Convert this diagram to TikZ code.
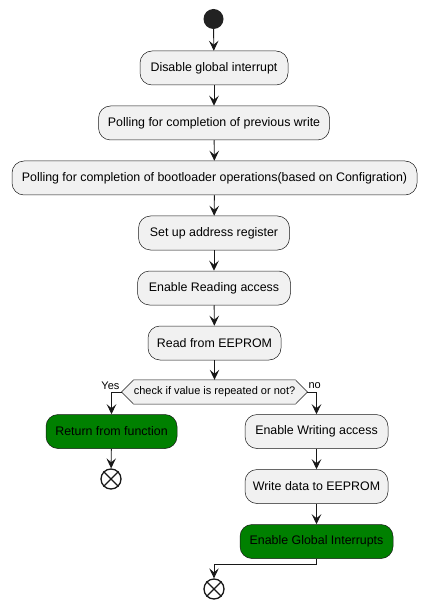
\documentclass[tikz,border=0pt]{standalone}
\usepackage{fontspec}
\setmainfont{Liberation Sans}
\usetikzlibrary{arrows.meta,calc}
\pgfdeclarelayer{bg}
\pgfsetlayers{bg,main}
\definecolor{boxfill}{HTML}{F1F1F1}
\definecolor{edgecol}{HTML}{181818}
\definecolor{okgreen}{HTML}{008000}
\definecolor{startcol}{HTML}{222222}
\begin{document}
\begin{tikzpicture}[x=1pt,y=-1pt,
  act/.style={draw=edgecol, line width=0.5pt, fill=boxfill, rounded corners=12pt,
    minimum height=34pt, inner xsep=4pt, font=\fontsize{12.4}{14}\selectfont},
  okact/.style={act, fill=okgreen},
  arr/.style={draw=edgecol, line width=0.9pt, -{Stealth[length=10pt,width=9.5pt,inset=4pt]}},
  endnode/.style={circle, draw=edgecol, line width=1.3pt, fill=white, minimum size=20pt, inner sep=0pt},
  lbl/.style={font=\fontsize{11}{13}\selectfont, inner sep=0pt}
]
\useasboundingbox (0,0) rectangle (427,609);
\node[circle, fill=startcol, minimum size=20pt, inner sep=0pt] (s) at (213.5,19) {};
\node[act, minimum width=148pt] (b1) at (214,68) {Disable global interrupt};
\node[act, minimum width=231pt] (b2) at (214,123) {Polling for completion of previous write};
\node[act, minimum width=405pt] (b3) at (214.5,178) {Polling for completion of bootloader operations(based on Configration)};
\node[act, minimum width=151pt] (b4) at (214,233) {Set up address register};
\node[act, minimum width=153pt] (b5) at (214,288) {Enable Reading access};
\node[act, minimum width=133pt] (b6) at (214.5,343) {Read from EEPROM};
\node[lbl, minimum width=159pt, minimum height=24pt] (d) at (214.5,392) {check if value is repeated or not?};
\coordinate (dl) at ($(d.west)+(-12,0)$);
\coordinate (dr) at ($(d.east)+(12,0)$);
\begin{pgfonlayer}{bg}
\draw[draw=edgecol, fill=boxfill, line width=0.5pt] (dl) -- (d.north west) -- (d.north east) -- (dr) -- (d.south east) -- (d.south west) -- cycle;
\end{pgfonlayer}
\node[lbl, anchor=east] (yes) at ($(dl)+(-2,-6)$) {Yes};
\node[lbl, anchor=west] (no) at ($(dr)+(1,-6)$) {no};
\node[okact, minimum width=131pt] (ret) at (111.5,431.5) {Return from function};
\node[endnode] (e1) at (111,479) {};
\draw[draw=edgecol, line width=1.3pt] (e1.45) -- (e1.225) (e1.135) -- (e1.315);
\node[act, minimum width=143pt] (w1) at (316.5,431.5) {Enable Writing access};
\node[act, minimum width=143pt] (w2) at (316.5,486.5) {Write data to EEPROM};
\node[okact, minimum width=153pt] (geb) at (316.5,541.5) {Enable Global Interrupts};
\node[endnode] (e2) at (214,589) {};
\draw[draw=edgecol, line width=1.3pt] (e2.45) -- (e2.225) (e2.135) -- (e2.315);
\coordinate (j) at (214,564);
\draw[arr] (s) -- (b1);
\draw[arr] (b1) -- (b2);
\draw[arr] (b2) -- (b3);
\draw[arr] (b3) -- (b4);
\draw[arr] (b4) -- (b5);
\draw[arr] (b5) -- (b6);
\draw[arr] (b6) -- (d.north);
\draw[arr] (dl) -| (ret.north);
\draw[arr] (dr) -| (w1.north);
\draw[arr] (ret) -- (e1);
\draw[arr] (w1) -- (w2);
\draw[arr] (w2) -- (geb);
\draw[arr] (geb.south) |- (j) -- (e2.north);
\end{tikzpicture}
\end{document}
